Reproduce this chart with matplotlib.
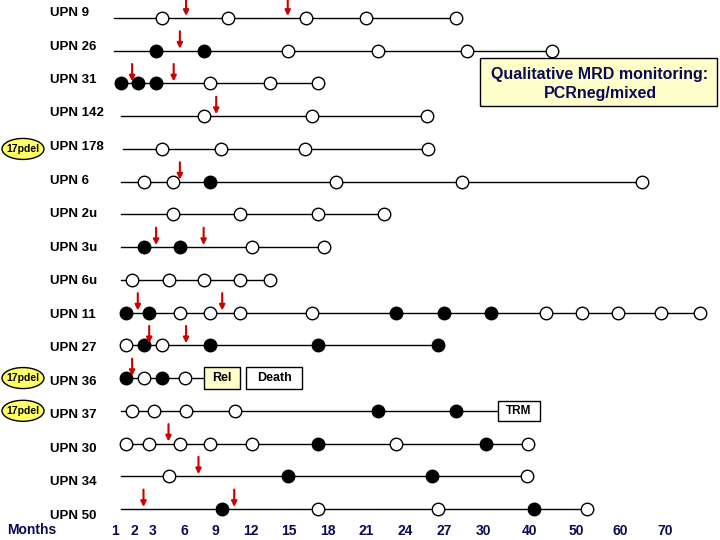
import numpy as np
import matplotlib
matplotlib.use('Agg')
import matplotlib.pyplot as plt
from matplotlib.patches import Ellipse, Rectangle

plt.rcParams['font.family'] = ['Liberation Sans', 'DejaVu Sans']
plt.rcParams['font.weight'] = 'bold'

# ---------------- data (months) ----------------
patients = ['UPN 9', 'UPN 26', 'UPN 31', 'UPN 142', 'UPN 178', 'UPN 6', 'UPN 2u',
            'UPN 3u', 'UPN 6u', 'UPN 11', 'UPN 27', 'UPN 36', 'UPN 37', 'UPN 30',
            'UPN 34', 'UPN 50']
del17p = ['UPN 178', 'UPN 36', 'UPN 37']

line_start = [0.95, 0.95, 1.3, 1.3, 1.4, 1.3, 1.3, 1.3, 1.3, 1.6, 1.6, 1.6, 1.3, 1.6, 1.3, 1.3]
line_end = [27.9, 44.8, 17.2, 25.7, 25.8, 64.9, 22.4, 17.7, 13.5, 77.8, 26.5, 7.9, 33.2, 39.6, 39.4, 52.5]

open_months = [
    [3.9, 10.1, 16.3, 21.0, 27.9],
    [14.9, 21.9, 28.8, 44.8],
    [8.5, 13.5, 17.2],
    [7.9, 16.8, 25.7],
    [3.9, 9.5, 16.2, 25.8],
    [2.5, 4.9, 18.6, 28.4, 64.9],
    [4.9, 11.1, 17.2, 22.4],
    [12.1, 17.7],
    [1.9, 4.5, 7.9, 11.1, 13.5],
    [5.6, 8.5, 11.1, 16.8, 43.5, 51.4, 59.5, 69.1, 77.8],
    [1.6, 3.9],
    [2.5, 6.1],
    [1.9, 3.1, 6.2, 10.7],
    [1.6, 2.8, 5.6, 8.5, 12.1, 23.3, 39.6],
    [4.5, 39.4],
    [17.2, 26.5, 52.5],
]
filled_months = [
    [],
    [3.3, 7.9],
    [1.3, 2.2, 3.3],
    [],
    [],
    [8.5],
    [],
    [2.5, 5.6],
    [],
    [1.6, 2.8, 23.3, 27.0, 31.7],
    [2.5, 8.5, 17.2, 26.5],
    [1.6, 3.9],
    [21.9, 27.9],
    [17.2, 30.6],
    [14.9, 26.1],
    [9.6, 40.9],
]
arrow_months = [
    [6.2, 14.9],
    [5.6],
    [1.9, 5.0],
    [9.1],
    [],
    [5.6],
    [],
    [3.3, 7.9],
    [],
    [2.2, 9.6],
    [2.8, 6.2],
    [1.9],
    [],
    [4.5],
    [7.4],
    [2.5, 10.6],
]

tick_months = [1, 2, 3, 6, 9, 12, 15, 18, 21, 24, 27, 30, 40, 50, 60, 70]
tick_labels = [str(m) for m in tick_months]

# ---------------- broken (piecewise) month axis ----------------
axis_months = [-6] + tick_months + [85]
axis_pos = [-18, 115, 134, 153, 184, 215, 251, 289, 328, 366, 405, 444, 483,
            530, 576, 620, 665, 732.5]


def fwd(m):
    return np.interp(m, axis_months, axis_pos)


def inv(p):
    return np.interp(p, axis_pos, axis_months)


W, H = 720, 540
NAVY = '#0a0a55'
RED = '#cc0000'

fig = plt.figure(figsize=(7.2, 5.4), dpi=100)
ax = fig.add_axes([0, 18 / H, 1, (H - 18) / H])
ax.set_xscale('function', functions=(fwd, inv))
ax.set_xlim(inv(0), inv(W))
row_px = (509 - 18) / 15.0
ax.set_ylim((H - 18 - 18) / row_px, -18 / row_px)
for s in ax.spines.values():
    s.set_visible(False)
ax.set_xticks(tick_months, tick_labels)
ax.set_yticks([])
ax.tick_params(axis='x', length=0, pad=1.5, labelsize=10, labelcolor=NAVY)
for lab in ax.get_xticklabels():
    lab.set_fontweight('bold')

ytr = ax.get_yaxis_transform()

for i, name in enumerate(patients):
    ax.plot([line_start[i], line_end[i]], [i, i], color='black', lw=1.0, zorder=1)
    if open_months[i]:
        ax.plot(open_months[i], [i] * len(open_months[i]), 'o', mfc='white',
                mec='black', ms=9, mew=1.0, zorder=3)
    if filled_months[i]:
        ax.plot(filled_months[i], [i] * len(filled_months[i]), 'o', mfc='black',
                mec='black', ms=9, mew=1.0, zorder=3)
    for a in arrow_months[i]:
        ax.annotate('', xy=(a, i), xytext=(0, 14), textcoords='offset points',
                    arrowprops=dict(arrowstyle='-|>', color=RED, lw=1.5,
                                    mutation_scale=8, shrinkA=0, shrinkB=1.5),
                    zorder=4)
    label_y = (13 + 33.5 * i - 18) / row_px
    ax.text(50 / W, label_y, name, transform=ytr, ha='left', va='center',
            fontsize=9.5, fontweight='bold', color='black')
    if name in del17p:
        ax.add_patch(Ellipse((23 / W, i), 42 / W, 21 / row_px, transform=ytr,
                             facecolor='#ffff66', edgecolor='black', lw=1.0,
                             zorder=2))
        ax.text(23 / W, i, '17pdel', transform=ytr, ha='center', va='center',
                fontsize=7.5, fontweight='bold', color='black', zorder=3)


def box(x0, x1, row, h, text, fc, fs):
    ax.add_patch(Rectangle((x0 / W, row - h / 2 / row_px), (x1 - x0) / W,
                           h / row_px, transform=ytr, facecolor=fc,
                           edgecolor='black', lw=1.0, zorder=2))
    ax.text((x0 + x1) / 2 / W, row, text, transform=ytr, ha='center',
            va='center', fontsize=fs, fontweight='bold', color='black', zorder=3)


r36 = patients.index('UPN 36')
r37 = patients.index('UPN 37')
box(204, 240, r36, 22, 'Rel', '#ffffcc', 9)
box(246, 302, r36, 22, 'Death', 'white', 9)
box(498, 540, r37, 20, 'TRM', 'white', 8.5)

# legend box
fig.patches.append(Rectangle((480 / W, 1 - 106 / H), 237 / W, 48 / H,
                             transform=fig.transFigure, facecolor='#ffffcc',
                             edgecolor='black', lw=1.0))
fig.text(600 / W, 1 - 75 / H, 'Qualitative MRD monitoring:', ha='center',
         va='center', fontsize=11.5, fontweight='bold', color=NAVY)
fig.text(600 / W, 1 - 93 / H, 'PCRneg/mixed', ha='center', va='center',
         fontsize=11.5, fontweight='bold', color=NAVY)

fig.text(7 / W, 1 - 530 / H, 'Months', ha='left', va='center', fontsize=10,
         fontweight='bold', color=NAVY)

fig.savefig('out.png', dpi=100)
